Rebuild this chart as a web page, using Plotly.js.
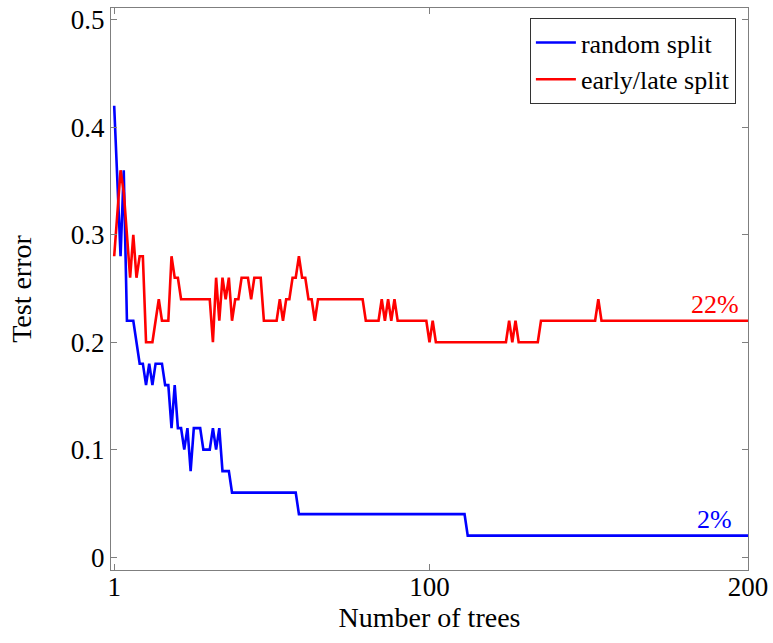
<!DOCTYPE html>
<html>
<head>
<meta charset="utf-8">
<script src="https://cdn.plot.ly/plotly-3.0.1.min.js"></script>
<style>html,body{margin:0;padding:0;background:#fff;}#chart{width:773px;height:643px;}</style>
</head>
<body>
<div id="chart"></div>
<script>
// Breakpoints of each curve (number of trees, test error)
const randomX = [1,2,3,4,5,7,8,9,10,11,12,13,14,16,17,18,19,20,21,22,23,24,25,26,28,29,31,32,33,34,35,37,38,58,59,111,112,200];
const randomY = [0.42,0.35,0.28,0.36,0.22,0.22,0.20,0.18,0.18,0.16,0.18,0.16,0.18,0.18,0.16,0.16,0.12,0.16,0.12,0.12,0.10,0.12,0.08,0.12,0.12,0.10,0.10,0.12,0.10,0.12,0.08,0.08,0.06,0.06,0.04,0.04,0.02,0.02];

const earlyX = [1,2,3,4,5,6,7,8,9,10,11,13,14,15,16,18,19,20,21,22,31,32,33,34,35,36,37,38,39,40,41,43,44,45,47,48,52,53,54,55,56,57,58,59,60,61,62,63,64,65,79,80,84,85,86,87,88,89,90,99,100,101,102,124,125,126,127,128,134,135,152,153,154,200];
const earlyY = [0.28,0.32,0.36,0.34,0.30,0.26,0.30,0.26,0.28,0.28,0.20,0.20,0.22,0.24,0.22,0.22,0.28,0.26,0.26,0.24,0.24,0.20,0.26,0.22,0.26,0.24,0.26,0.22,0.24,0.24,0.26,0.26,0.24,0.26,0.26,0.22,0.22,0.24,0.22,0.24,0.24,0.26,0.26,0.28,0.26,0.26,0.24,0.24,0.22,0.24,0.24,0.22,0.22,0.24,0.22,0.24,0.22,0.24,0.22,0.22,0.20,0.22,0.20,0.20,0.22,0.20,0.22,0.20,0.20,0.22,0.22,0.24,0.22,0.22];

const seriesNames = ["random split", "early/late split"];
const xTickVals = [1, 100, 200];
const xTickText = ["1", "100", "200"];
const yTickVals = [0, 0.1, 0.2, 0.3, 0.4, 0.5];
const yTickText = ["0", "0.1", "0.2", "0.3", "0.4", "0.5"];
const endLabels = ["2%", "22%"];

const FONT = "'Liberation Serif', 'Times New Roman', serif";

const traces = [
  {x: randomX, y: randomY, name: seriesNames[0], mode: "lines",
   line: {color: "#0000ff", width: 2.6}},
  {x: earlyX, y: earlyY, name: seriesNames[1], mode: "lines",
   line: {color: "#ff0000", width: 2.6}}
];

const axisCommon = {
  showline: true, linecolor: "#7f7f7f", linewidth: 1.2, mirror: "allticks",
  ticks: "inside", ticklen: 6, tickcolor: "#7f7f7f", tickwidth: 1,
  showgrid: false, zeroline: false, automargin: false,
  tickfont: {family: FONT, size: 27, color: "#000"}
};

const layout = {
  width: 773, height: 643,
  margin: {l: 111, r: 25, t: 8, b: 73},
  paper_bgcolor: "#fff", plot_bgcolor: "#fff",
  showlegend: true,
  legend: {
    x: 0.981, y: 0.982, xanchor: "right", yanchor: "top",
    bordercolor: "#333", borderwidth: 1, bgcolor: "#fff",
    font: {family: FONT, size: 26, color: "#000"},
    tracegroupgap: 0, itemwidth: 40
  },
  xaxis: Object.assign({}, axisCommon, {
    range: [0, 200], tickmode: "array", tickvals: xTickVals, ticktext: xTickText,
    ticklabelstandoff: -8,
    title: {text: "Number of trees", font: {family: FONT, size: 28, color: "#000"}, standoff: 2}
  }),
  yaxis: Object.assign({}, axisCommon, {
    range: [-0.012, 0.511], tickmode: "array", tickvals: yTickVals, ticktext: yTickText,
    title: {text: "Test error", font: {family: FONT, size: 28, color: "#000"}, standoff: 30}
  }),
  annotations: [
    {x: randomX[randomX.length - 1], y: randomY[randomY.length - 1], xref: "x", yref: "y",
     text: endLabels[0], showarrow: false, xanchor: "right", yanchor: "bottom",
     xshift: -14, yshift: 0, font: {family: FONT, size: 26, color: "#0000ff"}},
    {x: earlyX[earlyX.length - 1], y: earlyY[earlyY.length - 1], xref: "x", yref: "y",
     text: endLabels[1], showarrow: false, xanchor: "right", yanchor: "bottom",
     xshift: -7, yshift: 0, font: {family: FONT, size: 26, color: "#ff0000"}}
  ]
};

Plotly.newPlot("chart", traces, layout, {displayModeBar: false, staticPlot: true});
</script>
</body>
</html>
